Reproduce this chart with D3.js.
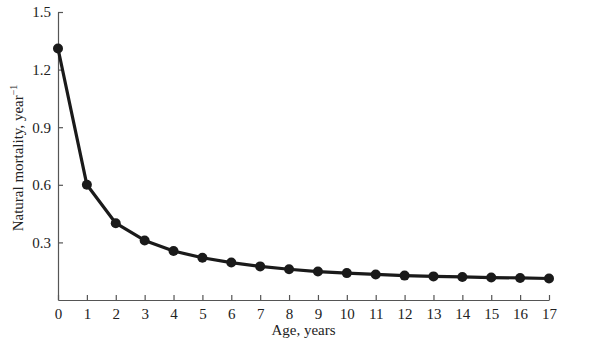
<!DOCTYPE html>
<html>
<head>
<meta charset="utf-8">
<script src="https://cdn.jsdelivr.net/npm/d3@7"></script>
<style>
  body { margin: 0; background: #fff; }
  svg { display: block; font-family: "Liberation Serif", "DejaVu Serif", serif; }
</style>
</head>
<body>
<svg id="chart"></svg>
<script>
const ages = [0, 1, 2, 3, 4, 5, 6, 7, 8, 9, 10, 11, 12, 13, 14, 15, 16, 17];
const mortality = [1.31, 0.60, 0.40, 0.31, 0.255, 0.22, 0.195, 0.175, 0.16, 0.148,
                   0.14, 0.133, 0.127, 0.123, 0.12, 0.117, 0.115, 0.112];
const yTicks = [0.3, 0.6, 0.9, 1.2, 1.5];

const width = 589, height = 341;
const margin = { top: 12, right: 40, bottom: 41, left: 58 };

const svg = d3.select('#chart')
    .attr('width', width)
    .attr('height', height);

const x = d3.scaleLinear()
    .domain([0, 17])
    .range([margin.left, width - margin.right]);

const y = d3.scaleLinear()
    .domain([0, 1.5])
    .range([height - margin.bottom, margin.top]);

// Axes (ticks point inward)
const xAxis = d3.axisBottom(x)
    .tickValues(ages)
    .tickFormat(d3.format('d'))
    .tickSizeInner(-5)
    .tickSizeOuter(0)
    .tickPadding(8);

const yAxis = d3.axisLeft(y)
    .tickValues(yTicks)
    .tickFormat(d3.format('.1f'))
    .tickSizeInner(-5)
    .tickSizeOuter(0)
    .tickPadding(7);

const gx = svg.append('g')
    .attr('transform', `translate(0,${height - margin.bottom})`)
    .call(xAxis);

const gy = svg.append('g')
    .attr('transform', `translate(${margin.left},0)`)
    .call(yAxis);

[gx, gy].forEach(g => {
    g.select('.domain').attr('stroke', '#555').attr('stroke-width', 1.2);
    g.selectAll('.tick line').attr('stroke', '#555').attr('stroke-width', 1.2);
    g.selectAll('text')
        .attr('fill', '#222')
        .style('font-family', '"Liberation Serif", serif')
        .style('font-size', '15px');
});

// Line + markers
const line = d3.line()
    .x((d, i) => x(ages[i]))
    .y(d => y(d));

svg.append('path')
    .datum(mortality)
    .attr('d', line)
    .attr('fill', 'none')
    .attr('stroke', '#1a1a1a')
    .attr('stroke-width', 3.2)
    .attr('stroke-linejoin', 'round');

svg.selectAll('.dot')
    .data(mortality)
    .join('circle')
    .attr('class', 'dot')
    .attr('cx', (d, i) => x(ages[i]))
    .attr('cy', d => y(d))
    .attr('r', 5)
    .attr('fill', '#1a1a1a');

// Axis labels
svg.append('text')
    .attr('x', (margin.left + width - margin.right) / 2)
    .attr('y', 335)
    .attr('text-anchor', 'middle')
    .attr('fill', '#222')
    .style('font-size', '15px')
    .text('Age, years');

const yl = svg.append('text')
    .attr('transform', `translate(23,158) rotate(-90)`)
    .attr('text-anchor', 'middle')
    .attr('fill', '#222')
    .style('font-size', '15px');
yl.append('tspan').text('Natural mortality, year');
yl.append('tspan').attr('dy', -6).style('font-size', '10px').text('\u22121');
</script>
</body>
</html>
